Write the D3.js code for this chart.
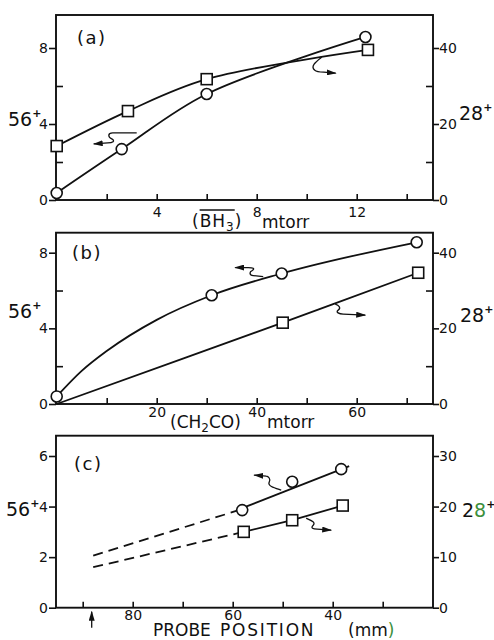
<!DOCTYPE html>
<html>
<head>
<meta charset="utf-8">
<script src="https://cdn.jsdelivr.net/npm/d3@7"></script>
<style>
  body { margin: 0; background: #fff; }
  text { font-family: "DejaVu Sans", sans-serif; fill: #111; }
</style>
</head>
<body>
<div id="graph"></div>
<script>
  // ---- data ----
  // (a) vs BH3 pressure (mtorr)
  const a_circle_x = [0, 2.6, 6.0, 12.35];
  const a_circle_56 = [0.37, 2.68, 5.58, 8.58];
  const a_square_x = [0, 2.85, 6.0, 12.45];
  const a_square_28 = [14.2, 23.4, 31.8, 39.5];

  // (b) vs CH2CO pressure (mtorr)
  const b_circle_x = [0, 31, 45, 72];
  const b_circle_56 = [0.4, 5.75, 6.9, 8.55];
  const b_trace_x = [0, 5, 10, 20, 31, 45, 72];          // circle curve as drawn
  const b_trace_56 = [0.4, 1.75, 2.8, 4.45, 5.75, 6.9, 8.55];
  const b_square_x = [45.2, 72.3];
  const b_square_28 = [21.5, 34.7];
  const b_sqline_x = [0, 45.2, 72.3];
  const b_sqline_28 = [0, 21.5, 34.7];

  // (c) vs probe position (mm)
  const c_circle_mm = [58.1, 48.1, 38.3];
  const c_circle_56 = [3.86, 4.98, 5.48];
  const c_cfit_mm = [58.1, 36.7];
  const c_cfit_56 = [3.94, 5.6];
  const c_cdash_mm = [87.9, 58.1];
  const c_cdash_56 = [2.06, 3.9];
  const c_square_mm = [57.8, 48.1, 38.0];
  const c_square_28 = [15.0, 17.3, 20.2];
  const c_sdash_mm = [87.9, 57.8];
  const c_sdash_28 = [8.0, 15.0];
  const c_probe_mm = 88.2;

  // ticks
  const a_x_major = [4, 8, 12], a_x_minor = [2, 6, 10, 14];
  const b_x_major = [20, 40, 60], b_x_minor = [10, 30, 50, 70];
  const c_x_major = [80, 60, 40], c_x_minor = [90, 70, 50, 30];
  const ab_left_major = [0, 4, 8], ab_left_minor = [2, 6];
  const ab_right_major = [0, 20, 40], ab_right_minor = [10, 30];
  const c_left_major = [0, 2, 4, 6];
  const c_right_major = [0, 10, 20, 30];

  // ---- layout ----
  const width = 494, height = 640;
  const left = 56, right = 433;

  let svg = d3.select("#graph").append("svg")
    .attr("width", width)
    .attr("height", height);

  svg.append("defs").append("marker")
    .attr("id", "ah")
    .attr("viewBox", "0 0 10 6")
    .attr("refX", 9).attr("refY", 3)
    .attr("markerWidth", 10).attr("markerHeight", 6)
    .attr("markerUnits", "userSpaceOnUse")
    .attr("orient", "auto")
    .append("path").attr("d", "M0,0 L10,3 L0,6 Z").attr("fill", "#111");

  const panels = [
    {
      top: 15, bottom: 200,
      x: d3.scaleLinear().domain([0, 14]).range([56.7, 406.7]),
      y: d3.scaleLinear().domain([0, 8]).range([200, 48]),
      y2: d3.scaleLinear().domain([0, 40]).range([200, 48]),
      xMajor: a_x_major, xMinor: a_x_minor, xPad: 7,
      lMajor: ab_left_major, lMinor: ab_left_minor,
      rMajor: ab_right_major, rMinor: ab_right_minor,
      label: "(a)", labelX: 77, labelY: 44,
      y56: 126, y28: 120, x28: 459
    },
    {
      top: 232.7, bottom: 404,
      x: d3.scaleLinear().domain([0, 60]).range([56.7, 356.7]),
      y: d3.scaleLinear().domain([0, 8]).range([404, 252.7]),
      y2: d3.scaleLinear().domain([0, 40]).range([404, 252.7]),
      xMajor: b_x_major, xMinor: b_x_minor, xPad: 3,
      lMajor: ab_left_major, lMinor: ab_left_minor,
      rMajor: ab_right_major, rMinor: ab_right_minor,
      label: "(b)", labelX: 72, labelY: 259,
      y56: 318, y28: 322, x28: 460
    },
    {
      top: 435.7, bottom: 607.7,
      x: d3.scaleLinear().domain([90, 40]).range([82.7, 332.7]),
      y: d3.scaleLinear().domain([0, 6]).range([607.7, 456]),
      y2: d3.scaleLinear().domain([0, 30]).range([607.7, 456]),
      xMajor: c_x_major, xMinor: c_x_minor, xPad: 2,
      lMajor: c_left_major, lMinor: [],
      rMajor: c_right_major, rMinor: [],
      label: "(c)", labelX: 74, labelY: 470,
      y56: 516, y28: 517, x28: 462
    }
  ];

  function styleAxis(g) {
    g.select(".domain").remove();
    g.attr("font-family", null).attr("font-size", null);
    g.selectAll("line").attr("stroke", "#111").attr("stroke-width", 1.6);
    g.selectAll("text").attr("font-size", 14).attr("fill", "#111");
  }
  const fmt = d3.format("d");

  panels.forEach(function(p, i) {
    // axes
    svg.append("g").attr("transform", `translate(0,${p.bottom})`)
      .call(d3.axisBottom(p.x).tickValues(p.xMajor).tickFormat(fmt).tickSizeInner(-6).tickSizeOuter(0).tickPadding(p.xPad))
      .call(styleAxis);
    svg.append("g").attr("transform", `translate(0,${p.bottom})`)
      .call(d3.axisBottom(p.x).tickValues(p.xMinor).tickSizeInner(-6).tickSizeOuter(0).tickFormat(""))
      .call(styleAxis);
    svg.append("g").attr("transform", `translate(${left},0)`)
      .call(d3.axisLeft(p.y).tickValues(p.lMajor).tickFormat(fmt).tickSizeInner(7).tickSizeOuter(0).tickPadding(1))
      .call(styleAxis);
    svg.append("g").attr("transform", `translate(${left},0)`)
      .call(d3.axisLeft(p.y).tickValues(p.lMinor).tickSizeInner(-7).tickSizeOuter(0).tickFormat(""))
      .call(styleAxis);
    svg.append("g").attr("transform", `translate(${right},0)`)
      .call(d3.axisRight(p.y2).tickValues(p.rMajor).tickFormat(fmt).tickSizeInner(6).tickSizeOuter(0).tickPadding(0))
      .call(styleAxis);
    svg.append("g").attr("transform", `translate(${right},0)`)
      .call(d3.axisRight(p.y2).tickValues(p.rMinor).tickSizeInner(-7).tickSizeOuter(0).tickFormat(""))
      .call(styleAxis);

    // frame
    svg.append("rect")
      .attr("x", left).attr("y", p.top)
      .attr("width", right - left).attr("height", p.bottom - p.top)
      .attr("fill", "none").attr("stroke", "#111").attr("stroke-width", 1.9);

    svg.append("text").attr("x", p.labelX).attr("y", p.labelY)
      .attr("font-size", 18).attr("letter-spacing", 1.5).text(p.label);

    let t56 = svg.append("text").attr("x", i === 2 ? 6 : 8).attr("y", p.y56).attr("font-size", 19);
    t56.append("tspan").text("56");
    t56.append("tspan").attr("font-size", 11).attr("font-weight", "bold").attr("dy", -9).text("+");

    let t28 = svg.append("text").attr("x", p.x28).attr("y", p.y28).attr("font-size", 19);
    t28.append("tspan").text("2");
    t28.append("tspan").style("fill", i === 2 ? "#3c8f3c" : "#111").text("8");
    t28.append("tspan").attr("font-size", 11).attr("font-weight", "bold").attr("dy", -9).text("+");
  });

  const [pa, pb, pc] = panels;

  function zip(xs, ys) { return xs.map((v, i) => [v, ys[i]]); }

  function drawLine(p, yScale, pts, curve, dash) {
    svg.append("path")
      .datum(pts)
      .attr("d", d3.line().x(d => p.x(d[0])).y(d => yScale(d[1])).curve(curve))
      .attr("fill", "none").attr("stroke", "#111").attr("stroke-width", 1.8)
      .attr("stroke-dasharray", dash || null);
  }
  function drawCircles(p, yScale, pts) {
    svg.append("g").selectAll("circle").data(pts).enter().append("circle")
      .attr("cx", d => p.x(d[0])).attr("cy", d => yScale(d[1])).attr("r", 5.5)
      .attr("fill", "#fff").attr("stroke", "#111").attr("stroke-width", 1.6);
  }
  function drawSquares(p, yScale, pts) {
    const s = 11;
    svg.append("g").selectAll("rect").data(pts).enter().append("rect")
      .attr("x", d => p.x(d[0]) - s / 2).attr("y", d => yScale(d[1]) - s / 2)
      .attr("width", s).attr("height", s)
      .attr("fill", "#fff").attr("stroke", "#111").attr("stroke-width", 1.6);
  }
  function squiggle(p, yScale, xv, yv, d) {
    svg.append("path")
      .attr("transform", `translate(${p.x(xv)},${yScale(yv)})`)
      .attr("d", d)
      .attr("fill", "none").attr("stroke", "#111").attr("stroke-width", 1.3)
      .attr("marker-end", "url(#ah)");
  }

  // (a)
  drawLine(pa, pa.y2, zip(a_square_x, a_square_28), d3.curveCatmullRom);
  drawLine(pa, pa.y, zip(a_circle_x, a_circle_56), d3.curveCatmullRom);
  drawSquares(pa, pa.y2, zip(a_square_x, a_square_28));
  drawCircles(pa, pa.y, zip(a_circle_x, a_circle_56));
  squiggle(pa, pa.y, 3.2, 3.53, "M0,0 L-24,0 C-29,0 -29,4 -25,6 C-21,8 -24,10 -29,10 L-43,11");
  squiggle(pa, pa.y2, 10.6, 37.6, "M0,0 C-5,4 -12,9 -7,13 C-5,15 -2,15 2,15 L14,16");

  // (b)
  drawLine(pb, pb.y2, zip(b_sqline_x, b_sqline_28), d3.curveCatmullRom);
  drawLine(pb, pb.y, zip(b_trace_x, b_trace_56), d3.curveMonotoneX);
  drawSquares(pb, pb.y2, zip(b_square_x, b_square_28));
  drawCircles(pb, pb.y, zip(b_circle_x, b_circle_56));
  squiggle(pb, pb.y, 41.3, 6.74, "M0,0 L-10,-1 C-14,-1 -14,-5 -11,-6 C-8,-8 -10,-9 -15,-9 L-28,-9");
  squiggle(pb, pb.y2, 55.7, 26.4, "M0,0 C4,1 6,4 3,6 C0,8 4,10 8,10 L30,11");

  // (c)
  drawLine(pc, pc.y, zip(c_cdash_mm, c_cdash_56), d3.curveLinear, "10,6");
  drawLine(pc, pc.y2, zip(c_sdash_mm, c_sdash_28), d3.curveLinear, "10,6");
  drawLine(pc, pc.y, zip(c_cfit_mm, c_cfit_56), d3.curveLinear);
  drawLine(pc, pc.y2, zip(c_square_mm, c_square_28), d3.curveLinear);
  drawCircles(pc, pc.y, zip(c_circle_mm, c_circle_56));
  drawSquares(pc, pc.y2, zip(c_square_mm, c_square_28));
  squiggle(pc, pc.y, 50.3, 4.65, "M0,0 C-6,-2 -14,-4 -12,-8 C-10,-11 -13,-14 -15,-14 L-27,-15");
  squiggle(pc, pc.y2, 45.3, 17.7, "M0,0 C4,2 10,4 7,7 C4,10 7,11 11,11 L25,12");

  svg.append("line")
    .attr("x1", pc.x(c_probe_mm)).attr("x2", pc.x(c_probe_mm))
    .attr("y1", pc.bottom + 20).attr("y2", pc.bottom + 4)
    .attr("stroke", "#111").attr("stroke-width", 1.3)
    .attr("marker-end", "url(#ah)");

  // axis titles
  let bh = svg.append("text").attr("x", 192).attr("y", 227).attr("font-size", 17).attr("letter-spacing", 1);
  bh.append("tspan").text("(BH");
  bh.append("tspan").attr("font-size", 12).attr("dy", 4).text("3");
  bh.append("tspan").attr("dy", -4).text(")");
  const bn = bh.node();
  svg.append("line")
    .attr("x1", bn.getStartPositionOfChar(1).x).attr("x2", bn.getEndPositionOfChar(3).x)
    .attr("y1", 210).attr("y2", 210)
    .attr("stroke", "#111").attr("stroke-width", 1.4);
  svg.append("text").attr("x", 262).attr("y", 228).attr("font-size", 17).text("mtorr");

  let ch = svg.append("text").attr("x", 170).attr("y", 428).attr("font-size", 17);
  ch.append("tspan").text("(CH");
  ch.append("tspan").attr("font-size", 12).attr("dy", 4).text("2");
  ch.append("tspan").attr("dy", -4).text("CO)");
  svg.append("text").attr("x", 267).attr("y", 428).attr("font-size", 17).text("mtorr");

  svg.append("text").attr("x", 153).attr("y", 636).attr("font-size", 17).text("PROBE");
  svg.append("text").attr("x", 220).attr("y", 636).attr("font-size", 17)
    .attr("letter-spacing", 1.8).text("POSITION");
  let mm = svg.append("text").attr("x", 348).attr("y", 636).attr("font-size", 17);
  mm.append("tspan").text("(mm");
  mm.append("tspan").style("fill", "#3c8f3c").text(")");
</script>
</body>
</html>
